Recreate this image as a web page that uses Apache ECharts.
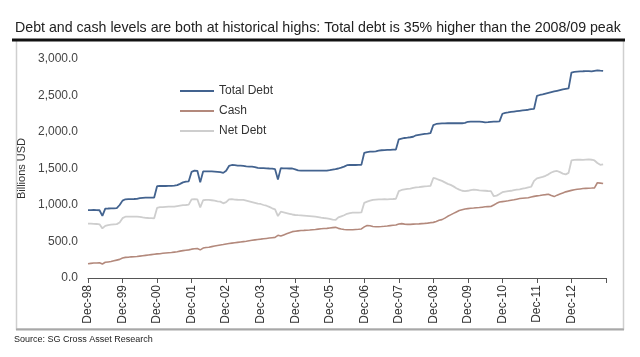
<!DOCTYPE html>
<html>
<head>
<meta charset="utf-8">
<script src="https://cdn.jsdelivr.net/npm/echarts@6/dist/echarts.min.js"></script>
<style>
html,body{margin:0;padding:0;background:#fff;}
#chart{width:640px;height:357px;}
</style>
</head>
<body>
<div id="chart"></div>
<script>
const titleText = 'Debt and cash levels are both at historical highs: Total debt is 35% higher than the 2008/09 peak';
const sourceText = 'Source: SG Cross Asset Research';
const yAxisName = 'Billions USD';
const seriesNames = ['Total Debt', 'Cash', 'Net Debt'];
const monthNames = ['Jan','Feb','Mar','Apr','May','Jun','Jul','Aug','Sep','Oct','Nov','Dec'];

// Monthly categories, Dec-98 .. Dec-13
const categories = [];
for (let i = 0; i <= 180; i++) {
  const mi = (11 + i) % 12;
  const yr = 1998 + Math.floor((11 + i) / 12);
  categories.push(monthNames[mi] + '-' + String(yr % 100).padStart(2, '0'));
}

// Billions USD, monthly from Dec-98
const totalDebt = [
  930, 930, 932, 930, 928, 850, 950, 952, 955, 955, 958, 1000,
  1060, 1078, 1080, 1080, 1082, 1085, 1095, 1098, 1100, 1100, 1100, 1102,
  1258, 1260, 1260, 1260, 1262, 1262, 1265, 1272, 1290, 1310, 1320, 1325,
  1455, 1470, 1468, 1310, 1460, 1462, 1460, 1460, 1458, 1455, 1450, 1440,
  1470, 1535, 1548, 1545, 1540, 1540, 1535, 1528, 1525, 1525, 1520, 1510,
  1505, 1505, 1503, 1500, 1498, 1490, 1350, 1505, 1503, 1503, 1500, 1500,
  1488, 1475, 1472, 1470, 1470, 1470, 1470, 1470, 1470, 1470, 1472, 1472,
  1478, 1485, 1492, 1500, 1512, 1525, 1545, 1548, 1548, 1548, 1550, 1550,
  1715, 1725, 1730, 1730, 1735, 1745, 1750, 1752, 1755, 1755, 1758, 1760,
  1900, 1910, 1918, 1922, 1928, 1935, 1955, 1962, 1968, 1973, 1978, 1985,
  2095, 2110, 2115, 2118, 2118, 2120, 2120, 2120, 2122, 2120, 2120, 2125,
  2140, 2142, 2142, 2142, 2142, 2140, 2133, 2135, 2140, 2142, 2142, 2145,
  2250, 2263, 2268, 2275, 2280, 2285, 2290, 2295, 2300, 2305, 2312, 2318,
  2495, 2507, 2515, 2525, 2535, 2545, 2555, 2565, 2575, 2585, 2592, 2598,
  2815, 2825, 2828, 2830, 2832, 2835, 2835, 2830, 2838, 2845, 2840, 2836
];
const cash = [
  195, 200, 205, 205, 210, 192, 215, 220, 225, 235, 245, 255,
  275, 283, 285, 290, 292, 295, 300, 305, 310, 315, 320, 325,
  330, 333, 338, 342, 346, 350, 355, 360, 368, 375, 380, 385,
  395, 400, 405, 385, 410, 418, 422, 430, 438, 445, 452, 458,
  466, 472, 478, 483, 488, 493, 498, 503, 510, 516, 522, 528,
  532, 537, 542, 547, 552, 557, 585, 575, 590, 605, 620, 635,
  640, 645, 650, 652, 655, 658, 662, 665, 670, 675, 678, 680,
  685, 690, 694, 680, 672, 665, 660, 660, 662, 665, 668, 672,
  700, 720, 715, 705, 703, 703, 705, 708, 712, 718, 722, 726,
  740, 745, 738, 735, 735, 738, 740, 742, 745, 748, 752, 758,
  762, 775, 790, 800, 820, 845, 865, 885, 905, 925, 935, 945,
  950, 955, 958, 962, 965, 970, 975, 978, 980, 1000, 1023, 1040,
  1046, 1052, 1058, 1065, 1072, 1080, 1088, 1092, 1096, 1100, 1110, 1118,
  1125, 1130, 1138, 1142, 1148, 1130, 1115, 1135, 1150, 1165, 1180, 1190,
  1200, 1208, 1215, 1220, 1225, 1228, 1230, 1232, 1235, 1305, 1300, 1295
];
const netDebt = [
  745, 745, 742, 740, 735, 680, 715, 725, 730, 735, 738, 760,
  820, 840, 840, 842, 840, 840, 838, 830, 825, 822, 820, 818,
  960, 970, 972, 975, 977, 977, 978, 985, 992, 998, 1000, 1005,
  1078, 1080, 1078, 968, 1065, 1069, 1069, 1065, 1060, 1050, 1046, 1023,
  1040, 1078, 1080, 1075, 1072, 1070, 1069, 1060, 1050, 1040, 1030, 1020,
  1014, 1000, 990, 975, 955, 941, 849, 908, 900, 890, 880, 870,
  863, 860, 858, 855, 852, 849, 845, 840, 835, 828, 822, 818,
  810, 800, 795, 830, 845, 860, 880, 890, 895, 895, 895, 898,
  1030, 1046, 1060, 1070, 1075, 1078, 1078, 1080, 1078, 1080, 1082, 1085,
  1190, 1206, 1215, 1220, 1225, 1235, 1242, 1245, 1250, 1255, 1258, 1262,
  1370, 1360, 1345, 1330, 1310, 1290, 1275, 1255, 1230, 1210, 1195, 1190,
  1195, 1205, 1210, 1206, 1200, 1198, 1195, 1192, 1190, 1120, 1128, 1150,
  1175, 1183, 1190, 1195, 1205, 1210, 1215, 1225, 1230, 1240, 1250, 1330,
  1365, 1375, 1385, 1400, 1420, 1445, 1460, 1466, 1450, 1430, 1420, 1440,
  1610, 1617, 1620, 1620, 1618, 1622, 1625, 1620, 1610, 1575, 1550, 1557
];

const FONT = '"Liberation Sans", Arial, sans-serif';
function fitSize(text, width) {
  const c = document.createElement('canvas').getContext('2d');
  c.font = '100px ' + FONT;
  return 100 * width / c.measureText(text).width;
}
const titleSize = fitSize(titleText, 606);
const sourceSize = fitSize(sourceText, 139);

const colors = ['#43638f', '#b3897c', '#cecece'];
const chart = echarts.init(document.getElementById('chart'), null, {renderer: 'canvas'});
const isDec = (idx) => idx % 12 === 0;

chart.setOption({
  animation: false,
  color: colors,
  textStyle: {fontFamily: FONT},
  grid: {left: 88, right: 34, top: 59, bottom: 79, containLabel: false},
  legend: {
    orient: 'vertical', left: 175, top: 80, itemWidth: 34, itemHeight: 2, itemGap: 8,
    icon: 'rect',
    data: seriesNames,
    textStyle: {fontSize: 12, color: '#333', fontFamily: FONT}
  },
  xAxis: {
    type: 'category', data: categories, boundaryGap: false,
    axisLine: {lineStyle: {color: '#555', width: 1}},
    axisTick: {interval: (i) => isDec(i), length: 5, lineStyle: {color: '#555'}},
    axisLabel: {
      interval: (i) => isDec(i) && i < 180, rotate: 90, fontSize: 12, color: '#333', margin: 7
    },
    splitLine: {show: false}
  },
  yAxis: {
    type: 'value', min: 0, max: 3000, interval: 500,
    name: yAxisName, nameLocation: 'middle', nameRotate: 90, nameGap: 61,
    nameTextStyle: {fontSize: 11, color: '#333'},
    axisLine: {show: false}, axisTick: {show: false}, splitLine: {show: false},
    axisLabel: {
      fontSize: 12, color: '#444', margin: 10,
      formatter: (v) => v.toLocaleString('en-US', {minimumFractionDigits: 1, maximumFractionDigits: 1})
    }
  },
  series: [
    {name: seriesNames[0], type: 'line', data: totalDebt, symbol: 'none', lineStyle: {width: 1.8, color: colors[0]}, itemStyle: {color: colors[0]}},
    {name: seriesNames[1], type: 'line', data: cash, symbol: 'none', lineStyle: {width: 1.6, color: colors[1]}, itemStyle: {color: colors[1]}},
    {name: seriesNames[2], type: 'line', data: netDebt, symbol: 'none', lineStyle: {width: 1.8, color: colors[2]}, itemStyle: {color: colors[2]}}
  ],
  graphic: [
    {type: 'rect', shape: {x: 16.5, y: 40, width: 607, height: 289}, style: {fill: 'none', stroke: '#cfcfcf', lineWidth: 1.5}, silent: true},
    {type: 'line', shape: {x1: 16, y1: 329.5, x2: 624, y2: 329.5}, style: {stroke: '#a8a8a8', lineWidth: 2}, silent: true},
    {type: 'line', shape: {x1: 12, y1: 40, x2: 625, y2: 40}, style: {stroke: '#111', lineWidth: 3}, silent: true},
    {type: 'text', x: 15, y: 28, style: {text: titleText, font: titleSize.toFixed(2) + 'px ' + FONT, fill: '#222', textAlign: 'left', textVerticalAlign: 'middle'}, silent: true},
    {type: 'text', x: 14, y: 339.5, style: {text: sourceText, font: sourceSize.toFixed(2) + 'px ' + FONT, fill: '#222', textAlign: 'left', textVerticalAlign: 'middle'}, silent: true}
  ]
});
</script>
</body>
</html>
